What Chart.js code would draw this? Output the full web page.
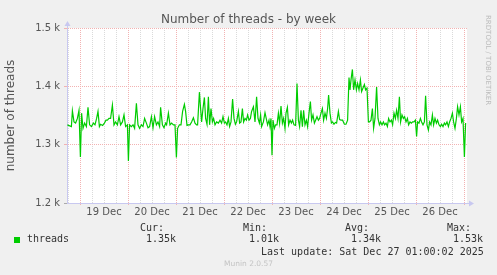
<!DOCTYPE html>
<html><head><meta charset="utf-8">
<script src="https://cdn.jsdelivr.net/npm/chart.js@4/dist/chart.umd.min.js"></script>
<style>
html,body{margin:0;padding:0;background:#f0f0f0;}
#wrap{position:relative;width:497px;height:275px;overflow:hidden;}
canvas{position:absolute;left:0;top:0;}
.t{position:absolute;white-space:pre;font-family:"DejaVu Sans Mono",monospace;font-size:10px;color:#333;line-height:12px;}
</style></head><body>
<div id="wrap">
<canvas id="c" width="497" height="275"></canvas>
<div style="position:absolute;left:0;width:497px;top:12px;text-align:center;font-family:'DejaVu Sans';font-size:12px;color:#555;line-height:14px;">Number of threads - by week</div>
<div style="position:absolute;left:484px;top:15px;writing-mode:vertical-rl;font-family:'DejaVu Sans';font-size:7px;color:#bbb;line-height:8px;white-space:nowrap;">RRDTOOL / TOBI OETIKER</div>
<div style="position:absolute;left:14px;top:237px;width:6px;height:6px;background:#00cc00;"></div>
<div class="t" style="left:27px;top:233px;">threads</div>
<div class="t" style="left:140px;top:222px;">Cur:</div>
<div class="t" style="left:146px;top:233px;">1.35k</div>
<div class="t" style="left:243px;top:222px;">Min:</div>
<div class="t" style="left:249px;top:233px;">1.01k</div>
<div class="t" style="left:345px;top:222px;">Avg:</div>
<div class="t" style="left:351px;top:233px;">1.34k</div>
<div class="t" style="left:447px;top:222px;">Max:</div>
<div class="t" style="left:453px;top:233px;">1.53k</div>
<div class="t" style="left:261px;top:246px;">Last update: Sat Dec 27 01:00:02 2025</div>
<div style="position:absolute;left:0;width:497px;top:259px;text-align:center;font-family:'DejaVu Sans';font-size:7.5px;color:#c4c4c4;line-height:10px;">Munin 2.0.57</div>
</div>
<script>
// hours since 19 Dec 00:00
const hours = [-6.3,-4.3,-3.8,-3.0,-2.2,-1.3,-0.5,0.2,0.8,1.5,2.3,3.2,4.0,4.8,5.7,6.7,7.5,8.3,9.0,9.7,10.3,11.3,12.2,13.0,13.7,14.5,15.3,16.2,17.0,17.8,18.7,19.5,20.3,21.2,22.0,22.8,23.7,24.2,24.8,25.7,26.5,27.3,28.2,29.0,29.8,30.7,31.5,32.3,33.2,34.0,34.8,35.7,36.5,37.3,38.2,39.0,39.8,40.3,41.2,42.0,42.8,
43.3,44.2,45.0,45.8,46.7,47.5,48.2,48.8,49.7,50.5,51.3,52.2,52.8,53.5,54.2,55.0,55.8,56.7,57.5,58.3,58.8,59.7,60.3,60.8,61.5,62.2,62.8,63.5,64.2,64.8,65.5,66.2,66.8,67.5,68.3,69.2,70.0,70.8,71.5,72.2,72.8,73.5,74.2,74.8,75.5,76.3,77.0,77.7,78.3,79.2,79.8,80.5,81.2,81.8,82.5,83.2,83.8,84.5,85.2,85.8,86.7,87.5,88.3,89.0,89.7,90.3,90.8,91.7,92.5,
93.8,94.5,95.0,95.5,96.0,96.5,97.2,97.8,98.5,99.2,99.8,100.5,101.2,101.8,102.5,103.0,103.7,104.3,105.0,105.7,106.3,107.0,107.8,108.5,109.2,109.8,110.5,111.2,111.8,112.5,113.2,113.8,114.5,115.2,115.8,116.5,117.2,117.8,118.5,119.2,119.8,120.5,121.2,121.8,122.5,123.2,123.8,124.3,125.0,125.7,126.3,127.0,127.7,128.3,129.2,129.8,130.5,131.3,132.2,133.0,133.8,134.5,135.0,135.5,136.2,136.8,137.5,138.2,138.8,139.5,140.2,140.8,141.5,142.2,142.8,143.5,
144.2,144.8,145.5,146.2,146.8,147.5,148.3,149.0,149.7,150.3,151.0,151.7,152.3,153.0,153.7,154.3,155.0,155.7,156.3,157.0,157.7,158.3,159.0,159.7,160.3,161.0,161.7,162.3,163.0,163.7,164.3,165.0,165.7,166.3,167.0,167.7,168.3,168.8,169.5,170.2,170.8,171.5,172.2,172.8,173.5,174.2,174.8,175.5,176.2,176.8,177.5,178.2,178.8,179.5,180.2,180.8,181.5,182.2,182.8,183.5,184.2,184.8,185.5,186.2,186.8,187.5,188.2,188.8,189.5,190.2,190.8,191.5,192.2,192.8];
const threads = [1334,1331,1358,1339,1337,1345,1359,1279,1354,1328,1337,1331,1364,1334,1331,1337,1334,1345,1357,1331,1335,1333,1337,1342,1342,1345,1345,1368,1334,1339,1334,1348,1334,1339,1351,1331,1334,1272,1334,1331,1334,1328,1371,1334,1328,1334,1331,1345,1337,1329,1331,1348,1329,1348,1334,1339,1331,1364,1334,1329,1337,
1334,1354,1334,1337,1334,1334,1278,1328,1334,1334,1357,1369,1357,1333,1334,1334,1339,1346,1337,1334,1334,1390,1362,1339,1362,1381,1345,1335,1382,1334,1362,1339,1345,1334,1339,1337,1342,1337,1348,1337,1339,1334,1345,1331,1339,1378,1345,1335,1339,1357,1337,1339,1362,1339,1345,1342,1351,1342,1345,1357,1365,1339,1382,1345,1337,1351,1331,1339,1355,
1334,1342,1331,1345,1282,1342,1328,1334,1334,1354,1337,1366,1337,1345,1328,1354,1364,1334,1342,1337,1342,1334,1333,1405,1342,1331,1359,1331,1359,1334,1342,1331,1354,1374,1342,1351,1337,1342,1348,1342,1345,1354,1362,1342,1354,1345,1362,1385,1354,1337,1339,1335,1338,1337,1357,1343,1342,1342,1335,1335,1342,1415,1394,1411,1429,1394,1411,1394,1405,1394,1411,1391,1397,1403,1394,1397,
1339,1339,1342,1362,1328,1345,1399,1345,1334,1339,1334,1339,1334,1337,1331,1345,1339,1342,1334,1354,1345,1359,1345,1382,1339,1351,1345,1348,1339,1345,1334,1339,1337,1339,1339,1342,1314,1339,1337,1345,1339,1334,1339,1384,1334,1325,1339,1334,1351,1334,1345,1337,1342,1334,1331,1335,1331,1337,1334,1339,1331,1339,1345,1354,1339,1328,1345,1365,1351,1365,1339,1345,1279,1337];
const dayLabels = ['19 Dec','20 Dec','21 Dec','22 Dec','23 Dec','24 Dec','25 Dec','26 Dec'];
const yTicks = [1200,1300,1400,1500];

const points = hours.map((h,i)=>({x:h,y:threads[i]}));
const gridHours = []; for (let h=-6; h<=192; h+=6) gridHours.push(h);

const RED = '#f2b2b2', GRAY = '#dadada', AXIS = '#c8c8f0';
const isDay = c => c.tick && c.tick.value % 24 === 0;

const bgPlugin = {
  id:'bg',
  beforeDraw(chart){
    const {ctx, chartArea:a} = chart;
    ctx.save(); ctx.fillStyle='#ffffff';
    ctx.fillRect(a.left, a.top, a.right-a.left, a.bottom-a.top);
    ctx.restore();
  },
  afterDraw(chart){
    const {ctx, chartArea:a} = chart;
    ctx.save();
    ctx.strokeStyle=AXIS; ctx.fillStyle=AXIS; ctx.lineWidth=1;
    const lx = Math.round(a.left)+0.5, by = Math.round(a.bottom)+0.5;
    ctx.beginPath(); ctx.moveTo(lx, a.top); ctx.lineTo(lx, a.top-4); ctx.stroke();
    ctx.beginPath(); ctx.moveTo(lx, a.top-7); ctx.lineTo(lx-3, a.top-2); ctx.lineTo(lx+3, a.top-2); ctx.closePath(); ctx.fill();
    ctx.beginPath(); ctx.moveTo(a.right, by); ctx.lineTo(a.right+3, by); ctx.stroke();
    ctx.beginPath(); ctx.moveTo(a.right+7, by); ctx.lineTo(a.right+2, by-3); ctx.lineTo(a.right+2, by+3); ctx.closePath(); ctx.fill();
    ctx.restore();
  }
};

new Chart(document.getElementById('c'), {
  type:'line',
  data:{datasets:[{label:'threads', data:points, borderColor:'#00cc00', borderWidth:1.2, pointRadius:0, tension:0, fill:false}]},
  options:{
    responsive:false, animation:false, devicePixelRatio:1,
    layout:{padding:{left:0,right:30,top:28,bottom:0}},
    plugins:{legend:{display:false}, tooltip:{enabled:false}, title:{display:false}},
    scales:{
      x:{type:'linear', min:-6.5, max:193.5,
        afterBuildTicks:s=>{ s.ticks = gridHours.map(v=>({value:v})); },
        afterFit:s=>{ s.height = 72; },
        ticks:{autoSkip:false, maxRotation:0, minRotation:0, padding:1, color:'#555',
          font:{family:'DejaVu Sans', size:10},
          callback:v=>{ const k=(v-12)/24; return (Number.isInteger(k)&&k>=0&&k<dayLabels.length)?dayLabels[k]:''; }},
        grid:{color:c=>isDay(c)?RED:GRAY, lineWidth:1, drawTicks:true, tickLength:2,
          tickColor:c=>isDay(c)?RED:'rgba(0,0,0,0)'},
        border:{color:AXIS, width:1, dash:[1,1]}
      },
      y:{min:1200, max:1500,
        afterBuildTicks:s=>{ s.ticks = yTicks.map(v=>({value:v})); },
        afterFit:s=>{ s.width = 67; },
        ticks:{padding:4, color:'#555', font:{family:'DejaVu Sans', size:10},
          callback:v=>(v/1000).toFixed(1)+' k'},
        title:{display:true, text:'number of threads', color:'#555', font:{family:'DejaVu Sans', size:12}, padding:{top:4,bottom:0}},
        grid:{color:c=>(c.tick && c.tick.value===1200)?AXIS:RED, lineWidth:1, drawTicks:true, tickLength:3,
          tickColor:c=>(c.tick && c.tick.value===1200)?'#aaa':RED},
        border:{color:AXIS, width:1, dash:[1,1]}
      }
    }
  },
  plugins:[bgPlugin]
});
</script>
</body></html>
